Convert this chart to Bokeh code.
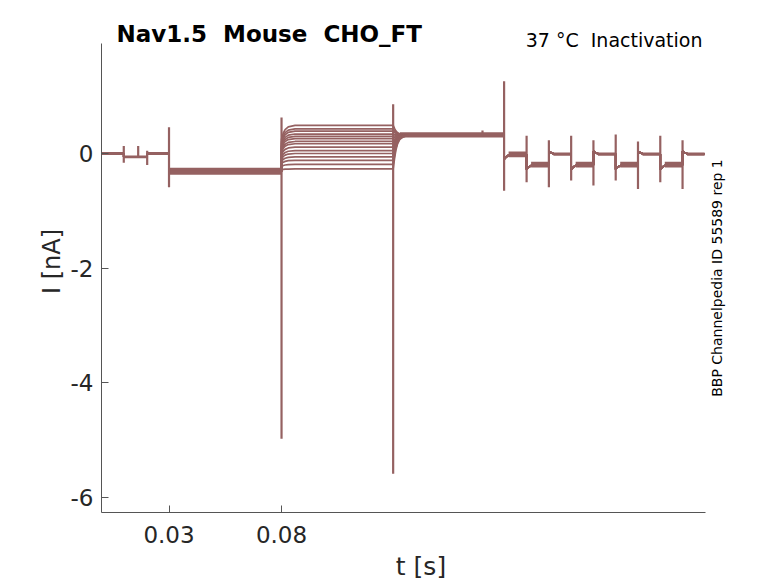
import math
from bokeh.plotting import figure
from bokeh.models import Range1d, Label, FixedTicker
from bokeh.embed import file_html
from bokeh.resources import INLINE

TRACE = "#956161"
FONT = "DejaVu Sans"

# ---- axes (drawn part of the axes) ----
x_min, x_max = 0.0, 0.2684
y_min, y_max = -6.267, 1.920
# visible plotting area extends a bit beyond the axes so that texts are not clipped
x_view_max = 0.28395
y_view_max = 2.4964
x_ticks = [0.03, 0.08]
x_tick_labels = ["0.03", "0.08"]
y_ticks = [-6, -4, -2, 0]
y_tick_labels = ["-6", "-4", "-2", "0"]

# texts (a no-break space keeps the double spacing in the SVG output)
title_text = "Nav1.5\u00a0 Mouse\u00a0 CHO_FT"
condition_text = "37 °C\u00a0 Inactivation"
source_text = "BBP Channelpedia ID 55589 rep 1"

# ---- protocol (times in s, currents in nA) ----
t_small = [0.0099, 0.0203]
small_level = -0.06
t_hold = 0.030
hold_level = -0.31
t_step = 0.080
t_post = 0.1296
post_level = 0.32
t_train = [0.1789, 0.1889, 0.1988, 0.2087, 0.2186, 0.2285, 0.2384, 0.2483, 0.2582]
train_levels = [-0.02, -0.20, -0.01, -0.20, -0.01, -0.20, -0.01, -0.20, -0.01]
t_end = 0.268

# test-step current of each sweep
step_levels = [0.49, 0.43, 0.39, 0.34, 0.30, 0.26, 0.21, 0.17, 0.11,
               0.05, 0.00, -0.06, -0.12, -0.19, -0.27]

# relaxations: time after onset, share of the gap left
step_relax_dt = [0.0, 0.0008, 0.0016, 0.003, 0.006]
step_relax_left = [1.0, 0.55, 0.30, 0.10, 0.0]
step_deficit = 0.3
post_relax_dt = [0.0, 0.0006, 0.0012, 0.002, 0.003, 0.0045, 0.007]
post_relax_left = [1.0, 0.70, 0.45, 0.25, 0.12, 0.05, 0.0]
train_relax_dt = [0.0, 0.001, 0.002, 0.004]
train_relax_left = [1.0, 0.45, 0.15, 0.0]
train_start_down = -0.08
train_start_up = 0.05

# noise band half-widths of the overlaid sweeps
hw_base = 0.025
hw_hold = 0.06
hw_post = 0.045
hw_down = 0.05
hw_up = 0.028

# capacitive spikes: time, top, bottom
spike_t = [0.0099, 0.0163, 0.0203, 0.030, 0.080, 0.1296, 0.1693, 0.1789,
           0.1889, 0.1988, 0.2087, 0.2186, 0.2285, 0.2384, 0.2483, 0.2582]
spike_hi = [0.13, 0.13, 0.05, 0.46, 0.63, 0.86, 0.40, 1.26,
            0.31, 0.23, 0.31, 0.23, 0.33, 0.21, 0.31, 0.23]
spike_lo = [-0.16, -0.07, -0.20, -0.59, -4.98, -5.59, 0.30, -0.65,
            -0.50, -0.59, -0.47, -0.56, -0.47, -0.62, -0.50, -0.62]


def sweep(level):
    ts = [0.0, t_small[0], t_small[0], t_small[1], t_small[1], t_hold, t_hold, t_step]
    ys = [0.0, 0.0, small_level, small_level, 0.0, 0.0, hold_level, hold_level]
    gap = step_deficit * (level - hold_level)
    for dt, f in zip(step_relax_dt, step_relax_left):
        ts.append(t_step + dt)
        ys.append(level - gap * f)
    ts.append(t_post)
    ys.append(level)
    for dt, f in zip(post_relax_dt, post_relax_left):
        ts.append(t_post + dt)
        ys.append(post_level - (post_level - level) * f)
    ts.append(t_train[0])
    ys.append(post_level)
    prev = post_level
    for i, (t0, lv) in enumerate(zip(t_train, train_levels)):
        t1 = t_train[i + 1] if i + 1 < len(t_train) else t_end
        off = train_start_down if lv < prev else train_start_up
        for dt, f in zip(train_relax_dt, train_relax_left):
            ts.append(t0 + dt)
            ys.append(lv + off * f)
        ts.append(t1)
        ys.append(lv)
        prev = lv
    return ts, ys


p = figure(x_range=Range1d(x_min, x_view_max), y_range=Range1d(y_min, y_view_max),
           frame_width=639, frame_height=502,
           min_border_left=101, min_border_right=30, min_border_top=10, min_border_bottom=70,
           output_backend="svg", toolbar_location=None)
p.outline_line_color = None
p.grid.visible = False
p.background_fill_color = "white"
p.border_fill_color = "white"

# noise bands of the overlaid sweeps
bands = [(0.0, t_small[0], 0.0, hw_base),
         (t_small[0], t_small[1], small_level, hw_base),
         (t_small[1], t_hold, 0.0, hw_base),
         (t_hold, t_step, hold_level, hw_hold),
         (t_post + 0.003, t_train[0], post_level + 0.005, hw_post)]
prev = post_level
for i, (t0, lv) in enumerate(zip(t_train, train_levels)):
    t1 = t_train[i + 1] if i + 1 < len(t_train) else t_end
    down = lv < prev
    bands.append((t0 + 0.002, t1, lv + (0.005 if down else 0.0), hw_down if down else hw_up))
    prev = lv
for t0, t1, lv, hw in bands:
    p.varea(x=[t0, t1], y1=[lv - hw, lv - hw], y2=[lv + hw, lv + hw],
            fill_color=TRACE, fill_alpha=1.0)

xs, ys = [], []
for lv in step_levels:
    a, b = sweep(lv)
    xs.append(a)
    ys.append(b)
p.multi_line(xs=xs, ys=ys, line_color=TRACE, line_width=1.7)

p.segment(x0=spike_t, y0=spike_lo, x1=spike_t, y1=spike_hi,
          line_color=TRACE, line_width=2.2)

# axes styling
for ax in (p.xaxis, p.yaxis):
    ax.axis_line_color = "#555555"
    ax.major_tick_line_color = "#555555"
    ax.minor_tick_line_color = None
    ax.major_tick_in = 7
    ax.major_tick_out = 0
    ax.major_label_text_font = FONT
    ax.major_label_text_font_size = "23px"
    ax.major_label_text_color = "#262626"
    ax.axis_label_text_font = FONT
    ax.axis_label_text_font_style = "normal"
    ax.axis_label_text_color = "#262626"

p.xaxis.bounds = (x_min, x_max)
p.yaxis.bounds = (y_min, y_max)
p.xaxis.ticker = FixedTicker(ticks=x_ticks)
p.yaxis.ticker = FixedTicker(ticks=y_ticks)
p.xaxis.major_label_overrides = dict(zip(x_ticks, x_tick_labels))
p.yaxis.major_label_overrides = dict(zip(y_ticks, y_tick_labels))
p.xaxis.axis_label = "t [s]"
p.yaxis.axis_label = "I [nA]"
p.xaxis.axis_label_text_font_size = "25px"
p.yaxis.axis_label_text_font_size = "24px"
p.xaxis.major_label_standoff = 13
p.xaxis.axis_label_standoff = 6
p.yaxis.major_label_standoff = 8
p.yaxis.axis_label_standoff = 2

p.add_layout(Label(x=116, y=33.4, x_units="canvas", y_units="canvas",
                   text=title_text, text_font=FONT,
                   text_font_style="bold", text_font_size="23px",
                   text_color="black", text_baseline="alphabetic"))
p.add_layout(Label(x=702, y=39.0, x_units="canvas", y_units="canvas",
                   text=condition_text, text_font=FONT,
                   text_font_size="19px", text_color="black",
                   text_align="right", text_baseline="alphabetic"))
p.add_layout(Label(x=716, y=277.5, x_units="canvas", y_units="canvas",
                   angle=math.pi / 2, text=source_text,
                   text_font=FONT, text_font_size="14px", text_color="black",
                   text_align="center", text_baseline="middle"))

open("out.html", "w").write(file_html(p, INLINE))
